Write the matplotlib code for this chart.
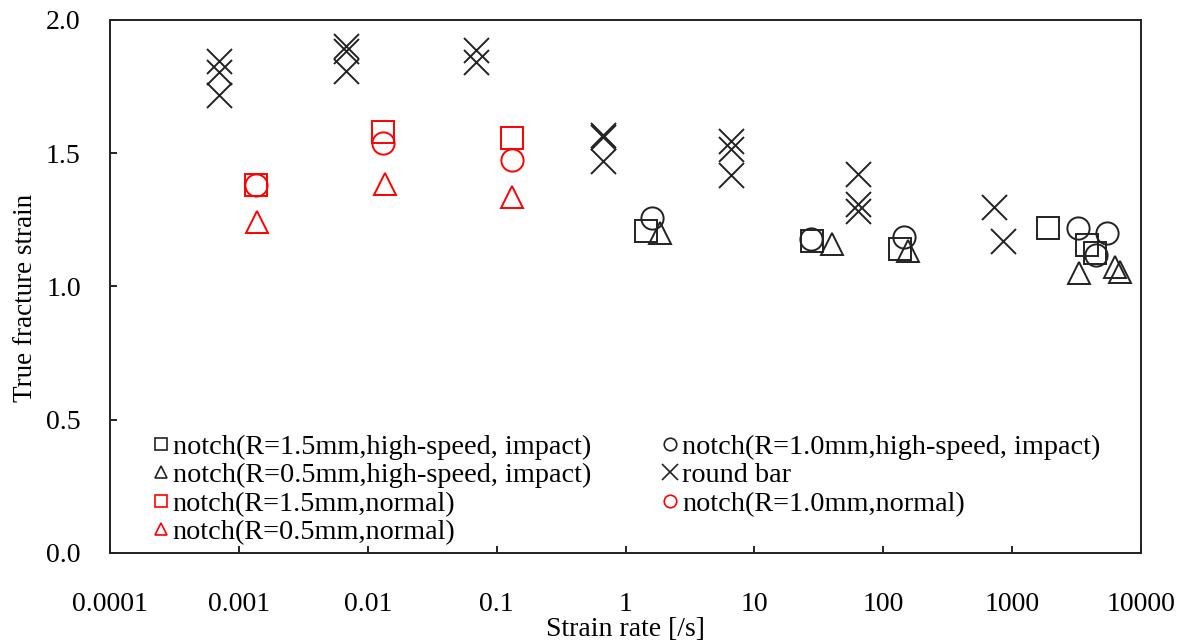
import matplotlib
matplotlib.use("Agg")
import matplotlib.pyplot as plt
from matplotlib.lines import Line2D

plt.rcParams['font.family'] = ['Liberation Serif', 'DejaVu Serif']

# ---- data ----
hs_r15_x = [1.45, 28, 134, 1909, 3793, 4405]
hs_r15_y = [1.207, 1.169, 1.142, 1.22, 1.154, 1.124]

hs_r10_x = [1.6, 27.5, 144, 3213, 5430, 4500]
hs_r10_y = [1.256, 1.177, 1.187, 1.22, 1.202, 1.12]

hs_r05_x = [1.86, 40, 155, 3315, 6300, 6900]
hs_r05_y = [1.20, 1.16, 1.133, 1.049, 1.074, 1.055]

bar_x = [0.000705, 0.000705, 0.000705, 0.00684, 0.00684, 0.00684, 0.0689, 0.0689,
         0.67, 0.67, 0.67, 6.6, 6.6, 6.6, 64, 64, 64, 721, 843]
bar_y = [1.847, 1.804, 1.718, 1.903, 1.885, 1.81, 1.888, 1.841,
         1.57, 1.56, 1.47, 1.545, 1.515, 1.42, 1.421, 1.308, 1.283, 1.30, 1.17]

nr_r15_x = [0.00135, 0.0131, 0.1318]
nr_r15_y = [1.38, 1.578, 1.556]
nr_r10_x = [0.00135, 0.0131, 0.1318]
nr_r10_y = [1.38, 1.54, 1.473]
nr_r05_x = [0.00139, 0.0137, 0.1318]
nr_r05_y = [1.242, 1.386, 1.336]

labels = ["notch(R=1.5mm,high-speed, impact)",
          "notch(R=1.0mm,high-speed, impact)",
          "notch(R=0.5mm,high-speed, impact)",
          "round bar",
          "notch(R=1.5mm,normal)",
          "notch(R=1.0mm,normal)",
          "notch(R=0.5mm,normal)"]

xticks = [0.0001, 0.001, 0.01, 0.1, 1, 10, 100, 1000, 10000]
xticklabels = ["0.0001", "0.001", "0.01", "0.1", "1", "10", "100", "1000", "10000"]
yticks = [0.0, 0.5, 1.0, 1.5, 2.0]

# ---- plot ----
fig = plt.figure(figsize=(11.8, 6.41), dpi=100)
ax = fig.add_axes([0.0932, 0.1373, 0.8738, 0.8315])

blk = '#222222'
red = '#ff0000'
ms = 16.5
mew = 1.4

series = [
    (hs_r15_x, hs_r15_y, 's', blk, ms),
    (hs_r10_x, hs_r10_y, 'o', blk, ms - 0.5),
    (hs_r05_x, hs_r05_y, '^', blk, ms),
    (bar_x, bar_y, 'x', blk, ms + 1.5),
    (nr_r15_x, nr_r15_y, 's', red, ms),
    (nr_r10_x, nr_r10_y, 'o', red, ms - 0.5),
    (nr_r05_x, nr_r05_y, '^', red, ms),
]
for (x, y, m, c, s) in series:
    ax.plot(x, y, linestyle='none', marker=m, markersize=s,
            markerfacecolor='none', markeredgecolor=c, markeredgewidth=mew)

ax.set_xscale('log')
ax.set_xlim(0.0001, 10000)
ax.set_ylim(0, 2.0)
ax.set_xticks(xticks)
ax.set_xticklabels(xticklabels)
ax.minorticks_off()
ax.set_yticks(yticks)
ax.set_yticklabels([f"{v:.1f}" for v in yticks])
ax.tick_params(direction='in', length=5, width=1.2, labelsize=20)
ax.tick_params(axis='y', pad=21)
ax.tick_params(axis='x', pad=28)
for sp in ax.spines.values():
    sp.set_linewidth(1.4)
    sp.set_color('#222222')

ax.set_xlabel("Strain rate [/s]", fontsize=20, labelpad=0)
ax.set_ylabel("True fracture strain", fontsize=19.5, labelpad=6)
ax.yaxis.set_label_coords(-0.070, 0.478)

# legend handles (small markers)
handles = []
for (x, y, m, c, s) in series:
    handles.append(Line2D([], [], linestyle='none', marker=m, markersize=9 if m != 'x' else 11,
                          markerfacecolor='none', markeredgecolor=c, markeredgewidth=1.2))
order = [0, 2, 4, 6, 1, 3, 5]
leg = ax.legend([handles[i] for i in order], [labels[i] for i in order],
                ncol=2, loc='upper left', bbox_to_anchor=(0.0417, 0.2226),
                frameon=False, fontsize=20.3, handlelength=0.55, handletextpad=0.15,
                columnspacing=2.53, labelspacing=0.09, borderpad=0, borderaxespad=0)

fig.savefig("out.png", dpi=100)
